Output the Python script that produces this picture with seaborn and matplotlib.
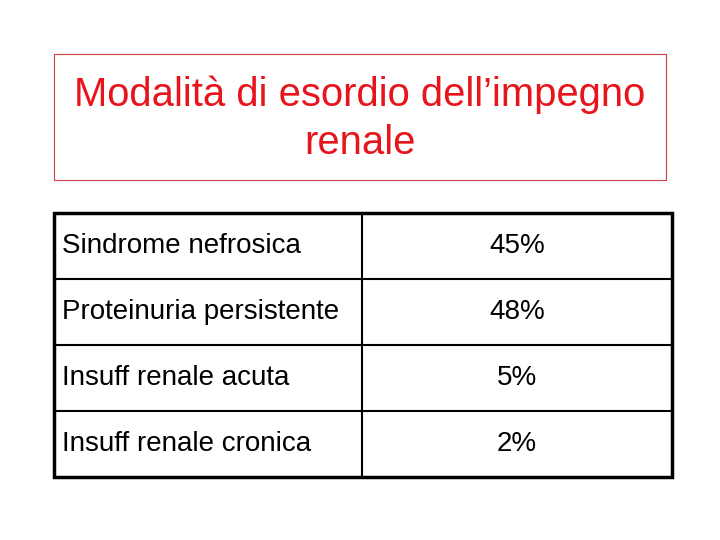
import matplotlib
matplotlib.use("Agg")
import matplotlib.pyplot as plt
import seaborn as sns

sns.set_style("white")
plt.rcParams['font.family'] = ['Liberation Sans', 'DejaVu Sans']

title_lines = ["Modalità di esordio dell’impegno", "renale"]
categories = ["Sindrome nefrosica", "Proteinuria persistente", "Insuff renale acuta", "Insuff renale cronica"]
values = ["45%", "48%", "5%", "2%"]

fig = plt.figure(figsize=(7.2, 5.4), dpi=100)
ax = fig.add_axes([0, 0, 1, 1])
ax.set_xlim(0, 720)
ax.set_ylim(540, 0)
ax.axis("off")

# title box
ax.add_patch(plt.Rectangle((54, 54), 612, 126, fill=False, edgecolor="#d04040", lw=0.8))
ax.text(360, 95, title_lines[0], color="#e8141c", fontsize=28.8, ha="center", va="center")
ax.text(360, 143, title_lines[1], color="#e8141c", fontsize=28.8, ha="center", va="center")

# table
x0, x1, xm = 54, 672, 362
y0, rh = 213, 66
n = len(categories)
for i, (c, v) in enumerate(zip(categories, values)):
    yc = y0 + rh * (i + 0.5)
    ax.text(62, yc, c, fontsize=20, ha="left", va="center", color="black")
    ax.text(517, yc, v, fontsize=20, ha="center", va="center", color="black")
    if i > 0:
        ax.plot([x0, x1], [y0 + rh * i] * 2, color="black", lw=1.5)
ax.plot([xm, xm], [y0, y0 + rh * n], color="black", lw=1.5)
ax.add_patch(plt.Rectangle((x0, y0), x1 - x0, rh * n, fill=False, edgecolor="black", lw=2.5))

fig.savefig("out.png", dpi=100)
